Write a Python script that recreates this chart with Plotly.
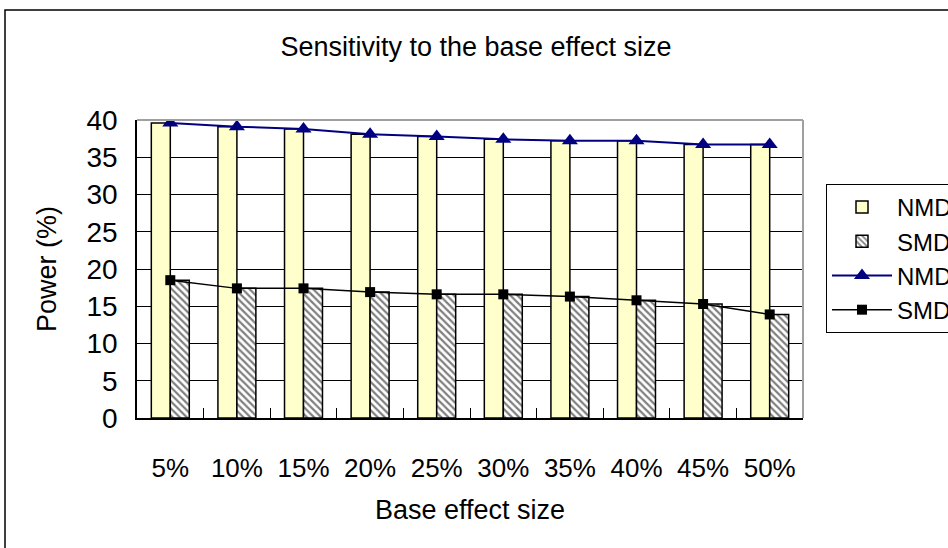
import plotly.graph_objects as go

categories = ["5%", "10%", "15%", "20%", "25%", "30%", "35%", "40%", "45%", "50%"]
nmd_values = [39.6, 39.1, 38.8, 38.1, 37.8, 37.4, 37.2, 37.2, 36.7, 36.7]
smd_values = [18.5, 17.4, 17.4, 16.9, 16.6, 16.6, 16.3, 15.8, 15.3, 13.9]
y_ticks = [0, 5, 10, 15, 20, 25, 30, 35, 40]

FONT = "Liberation Sans, Arial, sans-serif"

fig = go.Figure()
fig.add_trace(go.Bar(
    x=categories, y=nmd_values, name="NMD",
    marker=dict(color="#FFFFCC", line=dict(color="black", width=1.5)),
))
fig.add_trace(go.Bar(
    x=categories, y=smd_values, name="SMD",
    marker=dict(color="white", line=dict(color="black", width=1.5),
                pattern=dict(shape="\\", fgcolor="black", bgcolor="white",
                             size=5, solidity=0.45)),
))
fig.add_trace(go.Scatter(
    x=categories, y=nmd_values, name="NMD", mode="lines+markers",
    line=dict(color="#000080", width=2),
    marker=dict(symbol="triangle-up", size=14, color="#000080"),
))
fig.add_trace(go.Scatter(
    x=categories, y=smd_values, name="SMD", mode="lines+markers",
    line=dict(color="black", width=1.5),
    marker=dict(symbol="square", size=10, color="black"),
))

L, R, T, B = 137, 145, 120, 130
W, H = 948, 548
pw, ph = W - L - R, H - T - B

fig.update_layout(
    width=W, height=H,
    margin=dict(l=L, r=R, t=T, b=B, autoexpand=False),
    paper_bgcolor="white", plot_bgcolor="white",
    barmode="group", bargap=0.43, bargroupgap=0,
    font=dict(family=FONT, size=26, color="black"),
    title=dict(text="Sensitivity to the base effect size",
               x=476 / W, xref="container", xanchor="center",
               y=1 - 47 / H, yref="container", yanchor="middle",
               font=dict(size=27, family=FONT)),
    legend=dict(x=(826 - L) / pw, xanchor="left",
                y=(T + ph - 184) / ph, yanchor="top",
                bordercolor="black", borderwidth=1, bgcolor="white",
                font=dict(size=24, family=FONT), itemwidth=60,
                traceorder="normal", tracegroupgap=0),
    showlegend=True,
)

fig.update_xaxes(
    type="category", range=[-0.5, 9.5], autorange=False, showgrid=False,
    showline=True, linecolor="black", linewidth=2,
    ticks="inside", ticklen=10, tickcolor="black", tickwidth=1,
    tickson="boundaries",
    ticklabelstandoff=26,
    tickfont=dict(size=26, family=FONT),
    title=dict(text="Base effect size", font=dict(size=27, family=FONT), standoff=18),
    mirror=False,
)
fig.update_yaxes(
    range=[0, 40], tickvals=y_ticks, ticktext=[str(v) for v in y_ticks],
    showgrid=True, gridcolor="black", gridwidth=1,
    showline=True, linecolor="black", linewidth=1.5,
    ticks="", ticklabelstandoff=12,
    tickfont=dict(size=28, family=FONT),
    title=dict(text="Power (%)", font=dict(size=27, family=FONT), standoff=22),
    zeroline=False,
)

# grey plot-area border on top and right
fig.add_shape(type="line", xref="paper", yref="paper", x0=0, x1=1, y0=1, y1=1,
              line=dict(color="#A0A0A0", width=2))
fig.add_shape(type="line", xref="paper", yref="paper", x0=1, x1=1, y0=0, y1=1,
              line=dict(color="#A0A0A0", width=2))
# outer chart-area border
fig.add_shape(type="rect", xref="paper", yref="paper",
              x0=(5 - L) / pw, x1=(W + 20 - L) / pw,
              y0=(T + ph - (H + 20)) / ph, y1=(T + ph - 10) / ph,
              line=dict(color="black", width=1.5), layer="below")

fig.write_html("out.html")
